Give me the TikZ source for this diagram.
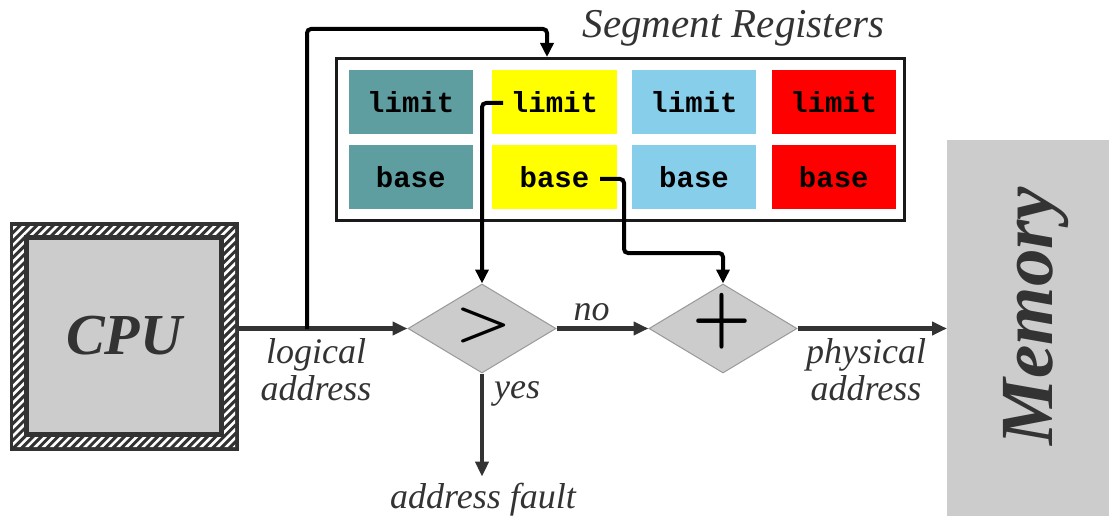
\documentclass[tikz,border=0pt]{standalone}
\usepackage[no-math]{fontspec}
\setmainfont{Liberation Serif}
\setmonofont{Liberation Mono}
\usepackage{graphicx}
\usetikzlibrary{arrows.meta,shapes.geometric}

\definecolor{ink}{HTML}{333333}
\definecolor{panel}{HTML}{CCCCCC}
\definecolor{edge}{HTML}{999999}
\definecolor{frame}{HTML}{1A1A1A}
\definecolor{regA}{HTML}{5F9EA0}
\definecolor{regB}{HTML}{FFFF00}
\definecolor{regC}{HTML}{87CEEB}
\definecolor{regD}{HTML}{FF0000}

\tikzset{
  flow/.style={draw=ink, line width=4.5pt, -{Triangle[length=15pt,width=13pt]}},
  link/.style={draw=black, line width=4pt, rounded corners=4pt, -{Triangle[length=14pt,width=13pt]}},
  reg/.style={fill=#1, minimum width=124.5pt, minimum height=64pt, inner sep=0pt,
    font=\fontsize{29}{30}\selectfont\ttfamily\bfseries},
  opbox/.style={diamond, fill=panel, draw=edge, line width=1pt,
    minimum width=148pt, minimum height=89pt, inner sep=0pt},
  lbl/.style={text=ink, font=\fontsize{36}{37}\selectfont\itshape, inner sep=0pt},
}

\begin{document}
\begin{tikzpicture}[x=1pt, y=-1pt]
\useasboundingbox (0,0) rectangle (1109,516);

% CPU: hatched frame around a grey box
\node (cpu) [fill=ink, minimum width=229pt, minimum height=229pt, inner sep=0pt] at (124,336.5) {};
\begin{scope}[even odd rule]
  \clip (13,226) rectangle (235,447) (24,235) rectangle (224,437);
  \foreach \k in {0,...,64}
    \draw[white, line width=2.6pt] (\k*8.3-270,470) -- ++(270,-270);
\end{scope}
\node (cpuin) [fill=panel, draw=ink, line width=5pt, minimum width=195pt, minimum height=197.5pt,
  inner sep=0pt, text=ink, font=\fontsize{58}{60}\selectfont\bfseries\itshape] at (124,335.75) {CPU};

% segment register table
\node (seg) [draw=frame, fill=white, line width=3pt, minimum width=568pt, minimum height=162pt, inner sep=0pt] at (620.5,139.5) {};
\node (segtitle) [text=ink, font=\fontsize{41}{44}\selectfont\itshape, anchor=base, inner sep=0pt] at (733.5,38) {Segment Registers};

\node[reg=regA] (lim1) at (410.75,102) {limit};
\node[reg=regB] (lim2) at (554.5,102) {limit};
\node[reg=regC] (lim3) at (694,102) {limit};
\node[reg=regD] (lim4) at (833.75,102) {limit};
\node[reg=regA] (base1) at (410.75,177) {base};
\node[reg=regB] (base2) at (554.5,177) {base};
\node[reg=regC] (base3) at (694,177) {base};
\node[reg=regD] (base4) at (833.75,177) {base};

% comparator and adder
\node (cmp) [opbox] at (482,328.5) {};
\node (add) [opbox] at (723,328.5) {};
\node (gt) [inner sep=0pt] at (483.5,325) {\scalebox{6.3}[5.2]{\boldmath$>$}};
\node (plus) [inner sep=0pt] at (722,321) {\scalebox{6.6}[7.3]{\boldmath$+$}};

% memory
\node (mem) [fill=panel, minimum width=162pt, minimum height=376pt, inner sep=0pt, anchor=north west] at (947,140) {};
\node (memtxt) [rotate=90, anchor=base, text=ink, inner sep=0pt,
  font=\fontsize{75}{80}\selectfont\bfseries\itshape] at (1052,316) {Memory};

% labels (base anchor sits on the last line)
\node (logi) [lbl, align=center, anchor=base] at (316,400) {logical\\address};
\node (phys) [lbl, align=center, anchor=base] at (866,400) {physical\\address};
\node (no) [lbl, anchor=base] at (591.5,320) {no};
\node (yes) [lbl, anchor=base west] at (494,398) {yes};
\node (fault) [lbl, anchor=base, outer sep=6pt] at (483,508) {address fault};

% data path
\draw[flow] (cpu.east |- cmp.west) -- (cmp.west);
\draw[flow] (cmp.east) -- (add.west);
\draw[flow] (add.east) -- (mem.west |- add.east);
\draw[flow] (cmp.south) -- (cmp.south |- fault.north);

% register lookups
\coordinate (tap) at (307,329);
\coordinate (looptop) at (547,29);
\coordinate (limsrc) at (503,103);
\coordinate (basesrc) at (600,179);
\coordinate (basebend) at (624,253);
\draw[link] (tap) |- (looptop) -- (looptop |- seg.north);
\draw[link] (limsrc) -| (cmp.north);
\draw[link] (basesrc) -| (basebend) -| (add.north);
\end{tikzpicture}
\end{document}
